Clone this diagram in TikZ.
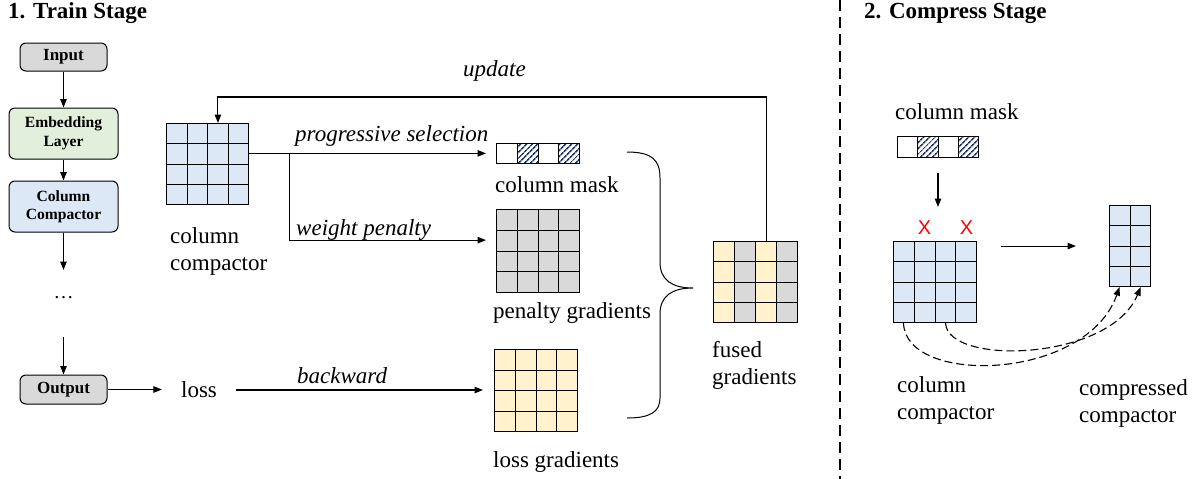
\documentclass[tikz,border=0pt]{standalone}
\usepackage{fontspec}
\setmainfont{Liberation Serif}
\newfontfamily\xsans{Liberation Sans}
\usetikzlibrary{arrows.meta,calc,patterns.meta}
\definecolor{cblue}{HTML}{DCE8F5}
\definecolor{cgreen}{HTML}{E2EFDA}
\definecolor{cgray}{HTML}{D9D9D9}
\definecolor{cyel}{HTML}{FFF2CC}
\definecolor{hatchc}{HTML}{1F3864}
\definecolor{xred}{HTML}{FF0000}
\tikzset{
 ln/.style={line width=1.1pt},
 arr/.style={ln,-{Triangle[length=8.5pt,width=6.5pt]}},
 blk/.style={draw, line width=1pt, rounded corners=6pt, align=center, inner sep=0pt, font=\fontsize{15.6}{18.5}\selectfont\bfseries},
 blkb/.style={blk, font=\fontsize{17}{19}\selectfont\bfseries},
 txt/.style={inner sep=0pt, font=\fontsize{23}{27}\selectfont, align=left},
 itx/.style={inner sep=0pt, font=\fontsize{23}{27}\selectfont\itshape},
 ttl/.style={inner sep=0pt, font=\fontsize{23}{27}\selectfont\bfseries},
 hatch/.style={pattern={Lines[angle=45,distance=4pt,line width=1.7pt]}, pattern color=hatchc},
 gl/.style={line width=1.1pt},
 cell/.style={draw, line width=1.1pt, inner sep=0pt, anchor=north west},
 g44/.style={cell, path picture={
   \foreach \f in {0.25,0.5,0.75}{
    \draw[gl] ($(path picture bounding box.north west)!\f!(path picture bounding box.north east)$) -- ($(path picture bounding box.south west)!\f!(path picture bounding box.south east)$);
    \draw[gl] ($(path picture bounding box.north west)!\f!(path picture bounding box.south west)$) -- ($(path picture bounding box.north east)!\f!(path picture bounding box.south east)$);}}},
 g24/.style={cell, path picture={
    \draw[gl] ($(path picture bounding box.north west)!0.5!(path picture bounding box.north east)$) -- ($(path picture bounding box.south west)!0.5!(path picture bounding box.south east)$);
   \foreach \f in {0.25,0.5,0.75}{
    \draw[gl] ($(path picture bounding box.north west)!\f!(path picture bounding box.south west)$) -- ($(path picture bounding box.north east)!\f!(path picture bounding box.south east)$);}}},
 gmask/.style={cell, path picture={
   \fill[hatch] ($(path picture bounding box.north west)!0.25!(path picture bounding box.north east)$) rectangle ($(path picture bounding box.south west)!0.5!(path picture bounding box.south east)$);
   \fill[hatch] ($(path picture bounding box.north west)!0.75!(path picture bounding box.north east)$) rectangle (path picture bounding box.south east);
   \foreach \f in {0.25,0.5,0.75}{
    \draw[gl] ($(path picture bounding box.north west)!\f!(path picture bounding box.north east)$) -- ($(path picture bounding box.south west)!\f!(path picture bounding box.south east)$);}}},
 gfused/.style={cell, path picture={
   \fill[cyel] (path picture bounding box.north west) rectangle ($(path picture bounding box.south west)!0.25!(path picture bounding box.south east)$);
   \fill[cgray] ($(path picture bounding box.north west)!0.25!(path picture bounding box.north east)$) rectangle ($(path picture bounding box.south west)!0.5!(path picture bounding box.south east)$);
   \fill[cyel] ($(path picture bounding box.north west)!0.5!(path picture bounding box.north east)$) rectangle ($(path picture bounding box.south west)!0.75!(path picture bounding box.south east)$);
   \fill[cgray] ($(path picture bounding box.north west)!0.75!(path picture bounding box.north east)$) rectangle (path picture bounding box.south east);
   \foreach \f in {0.25,0.5,0.75}{
    \draw[gl] ($(path picture bounding box.north west)!\f!(path picture bounding box.north east)$) -- ($(path picture bounding box.south west)!\f!(path picture bounding box.south east)$);
    \draw[gl] ($(path picture bounding box.north west)!\f!(path picture bounding box.south west)$) -- ($(path picture bounding box.north east)!\f!(path picture bounding box.south east)$);}}},
 xmark/.style={inner sep=0pt, text=xred, font=\xsans\fontsize{20}{20}\selectfont},
 dsh/.style={line width=1.1pt, dash pattern=on 8pt off 4pt},
 brace/.style={line width=1pt},
}
\begin{document}
\begin{tikzpicture}[x=1pt,y=-1pt]
\useasboundingbox (0,0) rectangle (1202,479);
% titles
\node[ttl, anchor=base west] (t1) at (8,18) {1. Train Stage};
\node[ttl, anchor=base west] (t2) at (864,18) {2. Compress Stage};
% separator
\coordinate (s1) at (840,0);
\coordinate (s2) at (840,479);
\draw[line width=1.4pt, dash pattern=on 11pt off 6pt] (s1) -- (s2);
% left pipeline
\node[blkb, fill=cgray, minimum width=87pt, minimum height=28pt] (inp) at (63.5,57) {Input};
\node[blk, fill=cgreen, minimum width=109pt, minimum height=51pt] (emb) at (63.5,133.5) {Embedding\\Layer};
\node[blk, fill=cblue, minimum width=109pt, minimum height=51pt] (colc) at (63.5,206.5) {Column\\Compactor};
\node[inner sep=0pt, font=\fontsize{20}{20}\selectfont] (dots) at (63.5,298) {\dots};
\node[blkb, fill=cgray, minimum width=87pt, minimum height=29pt] (out) at (63.5,389.5) {Output};
\coordinate (d1) at (63.5,270);
\coordinate (d2) at (63.5,337);
\draw[arr] (inp) -- (emb);
\draw[arr] (emb) -- (colc);
\draw[arr] (colc) -- (d1);
\draw[arr] (d2) -- (out);
% loss
\node[txt, inner xsep=19pt] (loss) at (199,390) {loss};
\draw[arr] (out.east) -- (out.east -| loss.west);
% grids
\node[g44, fill=cblue, minimum width=82pt, minimum height=81pt] (cc) at (166,123) {};
\node[txt, anchor=north west] (cclab) at (170,227) {column\\compactor};
\node[gmask, minimum width=83pt, minimum height=20pt] (mask1) at (496,143) {};
\node[txt, anchor=base west] (masklab) at (495,192) {column mask};
\node[g44, fill=cgray, minimum width=83pt, minimum height=83pt] (pen) at (496,209) {};
\node[txt, anchor=base west] (penlab) at (493,318) {penalty gradients};
\node[g44, fill=cyel, minimum width=83pt, minimum height=82pt] (lossg) at (494,349) {};
\node[txt, anchor=base west] (losslab) at (493,467) {loss gradients};
\node[gfused, minimum width=84pt, minimum height=81pt] (fused) at (713,241) {};
\node[txt, anchor=north west] (fusedlab) at (712,341) {fused\\gradients};
% connectors
\coordinate (ccr) at ($(cc.north east)!0.37!(cc.south east)$);
\coordinate (brk) at ($(ccr)+(40,0)$);
\coordinate (penin) at ($(pen.north west)!0.37!(pen.south west)$);
\draw[arr, shorten >=10pt] (ccr) -- (ccr -| mask1.west);
\draw[arr, shorten >=10pt] (brk) |- (penin);
\draw[arr, shorten >=11pt] (loss.east) -- (loss.east -| lossg.west);
\node[itx, anchor=base west] (lps) at (295,141) {progressive selection};
\node[itx, anchor=base west] (lwp) at (296,235) {weight penalty};
\node[itx, anchor=base west] (lbw) at (297,383) {backward};
% update
\coordinate (ft) at ($(fused.north west)!0.625!(fused.north east)$);
\coordinate (ct) at ($(cc.north west)!0.625!(cc.north east)$);
\coordinate (upc) at (490,97);
\draw[arr] (ft) |- (upc) -| (ct);
\node[itx, anchor=base west] (lup) at (463,76) {update};
% brace
\draw[brace] (627,152) .. controls (652,152) and (660,160) .. (660,178) -- (660,262) .. controls (660,280) and (672,288) .. (693,288) .. controls (672,288) and (660,296) .. (660,314) -- (660,398) .. controls (660,412) and (650,418) .. (627,418);
% compress stage
\node[txt, anchor=base west] (mask2lab) at (895,119) {column mask};
\node[gmask, minimum width=81pt, minimum height=21pt] (mask2) at (897,136) {};
\coordinate (m2end) at (938,207);
\draw[arr, shorten <=15pt] (mask2.south -| m2end) -- (m2end);
\node[g44, fill=cblue, minimum width=83pt, minimum height=81pt] (cc2) at (893,241) {};
\node[xmark] (x1) at ($(cc2.north west)!0.375!(cc2.north east)+(0,-13)$) {X};
\node[xmark] (x2) at ($(cc2.north west)!0.875!(cc2.north east)+(0,-13)$) {X};
\node[g24, fill=cblue, minimum width=41pt, minimum height=81pt] (cg) at (1109,205) {};
\draw[arr, shorten <=24pt, shorten >=33pt] (cc2.east |- cg.west) -- (cg.west);
\coordinate (a1) at ($(cc2.south west)!0.125!(cc2.south east)$);
\coordinate (a3) at ($(cc2.south west)!0.625!(cc2.south east)$);
\coordinate (b1) at ($(cg.south west)!0.25!(cg.south east)$);
\coordinate (b2) at ($(cg.south west)!0.75!(cg.south east)$);
\draw[dsh, -{Triangle[length=8.5pt,width=6.5pt]}] (a1) .. controls ($(a1)+(2,63)$) and ($(b1)+(-33,94)$) .. (b1);
\draw[dsh, -{Triangle[length=8.5pt,width=6.5pt]}] (a3) .. controls ($(a3)+(2,43)$) and ($(b2)+(-30,74)$) .. (b2);
\node[txt, anchor=north west] (cc2lab) at (897,376) {column\\compactor};
\node[txt, anchor=north west] (cglab) at (1079,379) {compressed\\compactor};
\end{tikzpicture}
\end{document}
